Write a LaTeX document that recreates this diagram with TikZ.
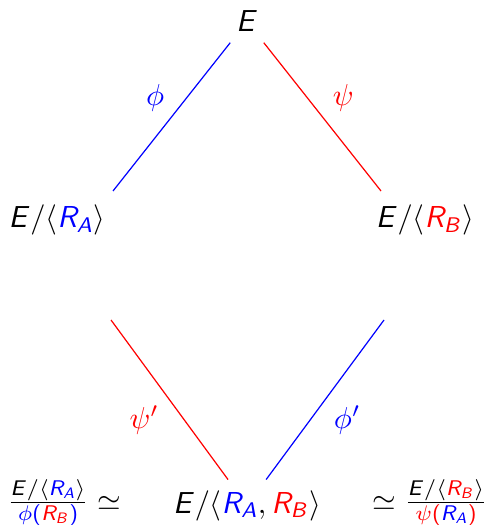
\documentclass[tikz,border=0pt]{standalone}
\usetikzlibrary{positioning}

% sans letters in math, greek stays serif
\DeclareSymbolFont{sfletters}{OT1}{cmss}{m}{sl}
\DeclareMathSymbol{E}{\mathalpha}{sfletters}{`E}
\DeclareMathSymbol{R}{\mathalpha}{sfletters}{`R}
\DeclareMathSymbol{A}{\mathalpha}{sfletters}{`A}
\DeclareMathSymbol{B}{\mathalpha}{sfletters}{`B}
\SetSymbolFont{operators}{normal}{OT1}{cmss}{m}{n}

\begin{document}
\begin{tikzpicture}[
    x=0.33pt, y=-0.33pt,
    quot/.style={anchor=base},
    isog/.style={thin},
    lab/.style={inner sep=3.3pt}
]
\useasboundingbox (0,0) rectangle (485,525);

% ----------------- nodes -----------------
\node[quot] (E)   at (247,32)  {$E$};
\node[quot] (EA)  at (57,228)  {$E/\langle\textcolor{blue}{R_A}\rangle$};
\node[quot] (EB)  at (425,228) {$E/\langle\textcolor{red}{R_B}\rangle$};
\node[quot] (EAB) at (247,513) {$E/\langle\textcolor{blue}{R_A},\textcolor{red}{R_B}\rangle$};

% quotients on both sides of the bottom node
\node[quot] (qA) at (64,510)  {$\frac{E/\langle\textcolor{blue}{R_A}\rangle}{\textcolor{blue}{\phi(\textcolor{red}{R_B})}}\simeq$};
\node[quot] (qB) at (430,510) {$\simeq\frac{E/\langle\textcolor{red}{R_B}\rangle}{\textcolor{red}{\psi(\textcolor{blue}{R_A})}}$};

% free ends of the edges
\coordinate (ea) at (113,191);
\coordinate (eb) at (381,191);
\coordinate (pa) at (111,320);
\coordinate (pb) at (384,320);

% ----------------- edges -----------------
\draw[isog, blue] (E) -- node[lab, pos=0.37, left=4pt]  {$\phi$} (ea);
\draw[isog, red]  (E) -- node[lab, pos=0.37, right=5pt] {$\psi$} (eb);
\draw[isog, red]  (pa) -- node[lab, pos=0.63, left=5pt]  {$\psi'$} (EAB);
\draw[isog, blue] (pb) -- node[lab, pos=0.63, right=4.5pt] {$\phi'$} (EAB);

\end{tikzpicture}
\end{document}
